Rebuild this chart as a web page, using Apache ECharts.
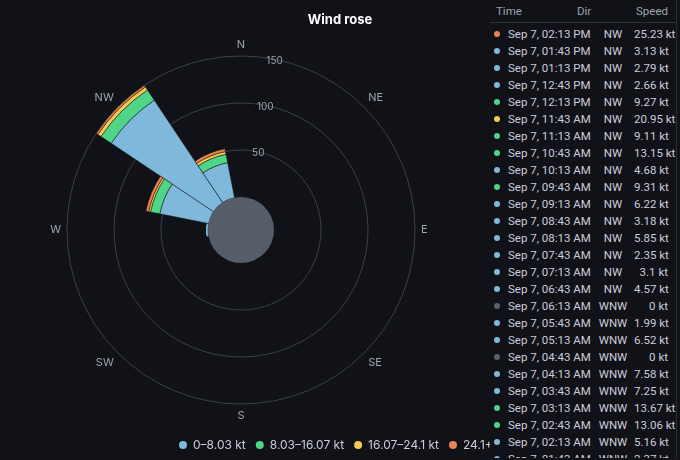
<!DOCTYPE html>
<html><head><meta charset="utf-8">
<script src="https://cdn.jsdelivr.net/npm/echarts@6/dist/echarts.min.js"></script>
<style>
html,body{margin:0;padding:0;background:#111217;}
#c{position:absolute;left:0;top:0;width:680px;height:460px;}
#t{position:absolute;left:490px;top:0;width:186px;height:458px;overflow:hidden;background:#111217;font-family:Roboto,"Noto Sans",sans-serif;font-size:11.5px;color:#ccccdc;border-right:1px solid #2a2d35;white-space:nowrap;}
#t .h{display:flex;height:22px;align-items:center;color:#9fa3ad;border-bottom:1px solid #2c3038;padding:0 8px 0 6px;}
#t .r{display:flex;height:17px;align-items:center;padding:0 8px 0 4px;}
.dot{width:6px;height:6px;border-radius:50%;margin-right:8px;flex:none}
.c1{width:84px;flex:none}.c2{width:42px;text-align:center;flex:none}.c3{flex:1;text-align:right}
</style></head><body>
<div id="c"></div><div id="t"></div>
<script>
const directions=['NNE','NE','ENE','E','ESE','SE','SSE','S','SSW','SW','WSW','W','WNW','NW','NNW','N'];
const bucketNames=['0–8.03 kt','8.03–16.07 kt','16.07–24.1 kt','24.1+ kt'];
const bucketColors=['#7eb8da','#4fd587','#f2cc52','#ea8452'];
const s0=[0,0,0,0,0,0,0,0,0,0,0,3,53,131,38,0];
const s1=[0,0,0,0,0,0,0,0,0,0,0,0,10,13,9,0];
const s2=[0,0,0,0,0,0,0,0,0,0,0,0,2,4,3,0];
const s3=[0,0,0,0,0,0,0,0,0,0,0,0,3,3,3,0];
const times=['Sep 7, 02:13 PM','Sep 7, 01:43 PM','Sep 7, 01:13 PM','Sep 7, 12:43 PM','Sep 7, 12:13 PM','Sep 7, 11:43 AM','Sep 7, 11:13 AM','Sep 7, 10:43 AM','Sep 7, 10:13 AM','Sep 7, 09:43 AM','Sep 7, 09:13 AM','Sep 7, 08:43 AM','Sep 7, 08:13 AM','Sep 7, 07:43 AM','Sep 7, 07:13 AM','Sep 7, 06:43 AM','Sep 7, 06:13 AM','Sep 7, 05:43 AM','Sep 7, 05:13 AM','Sep 7, 04:43 AM','Sep 7, 04:13 AM','Sep 7, 03:43 AM','Sep 7, 03:13 AM','Sep 7, 02:43 AM','Sep 7, 02:13 AM','Sep 7, 01:43 AM'];
const dirs=['NW','NW','NW','NW','NW','NW','NW','NW','NW','NW','NW','NW','NW','NW','NW','NW','WNW','WNW','WNW','WNW','WNW','WNW','WNW','WNW','WNW','WNW'];
const speeds=[25.23,3.13,2.79,2.66,9.27,20.95,9.11,13.15,4.68,9.31,6.22,3.18,5.85,2.35,3.1,4.57,0,1.99,6.52,0,7.58,7.25,13.67,13.06,5.16,2.37];
const labelShown={N:1,NE:1,E:1,SE:1,S:1,SW:1,W:1,NW:1};
const chart=echarts.init(document.getElementById('c'));
const series=[s0,s1,s2,s3].map((d,i)=>({type:'bar',coordinateSystem:'polar',stack:'a',name:bucketNames[i],data:d,barCategoryGap:'0%',itemStyle:{color:bucketColors[i],borderColor:'#111217',borderWidth:0.5}}));
chart.setOption({
 backgroundColor:'#111217',
 title:{text:'Wind rose',left:'center',top:9,textStyle:{color:'#ffffff',fontSize:13,fontWeight:'bold',fontFamily:'Inter'}},
 legend:{bottom:4,left:172,itemWidth:10,itemHeight:10,icon:'circle',textStyle:{color:'#ccccdc',fontSize:12,fontFamily:'Inter'},data:bucketNames},
 polar:{center:[241,230],radius:[33,174]},
 angleAxis:{type:'category',data:directions,startAngle:90-11.25,boundaryGap:true,
   axisLine:{show:false},axisTick:{show:false},splitLine:{show:false},
   axisLabel:{color:'#9fa3ad',fontSize:11,fontFamily:'Inter',margin:6,formatter:v=>labelShown[v]?v:''}},
 radiusAxis:{min:0,max:150,interval:50,axisLine:{show:false},axisTick:{show:false},
   splitLine:{lineStyle:{color:'#3b3f48'}},
   axisLabel:{color:'#9fa3ad',fontSize:10,fontFamily:'Inter',margin:-8,formatter:v=>v===0?'':v}},
 series:series.concat([{type:'pie',center:[241,230],radius:[0,33],silent:true,label:{show:false},data:[{value:1,itemStyle:{color:'#555d69'}}]}])
});
const bucketColor=s=>s===0?'#5b6068':bucketColors[s<8.03?0:s<16.07?1:s<24.1?2:3];
let h='<div class="h"><span style="width:70px">Time</span><span style="width:36px;text-align:center">Dir</span><span class="c3">Speed</span></div><div style="height:2px"></div>';
times.forEach((t,i)=>{h+=`<div class="r"><span class="dot" style="background:${bucketColor(speeds[i])}"></span><span class="c1">${t}</span><span class="c2">${dirs[i]}</span><span class="c3">${speeds[i]} kt</span></div>`;});
document.getElementById('t').innerHTML=h;
</script></body></html>
